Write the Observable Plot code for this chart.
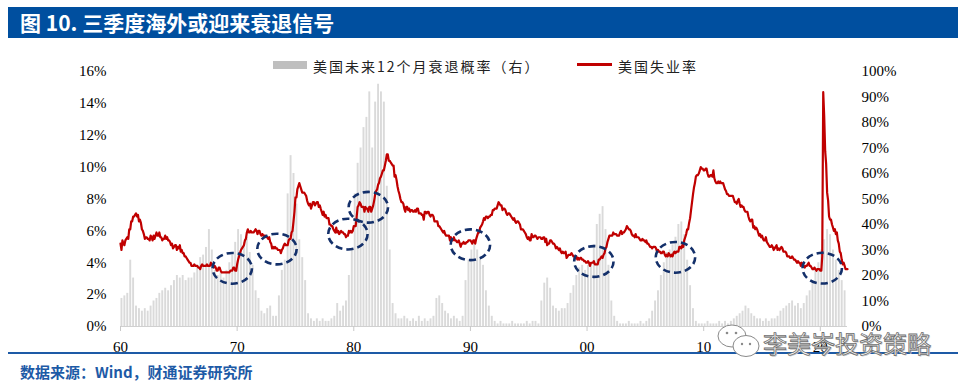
<!DOCTYPE html>
<html><head><meta charset="utf-8">
<script src="https://cdn.jsdelivr.net/npm/d3@7"></script>
<script src="https://cdn.jsdelivr.net/npm/@observablehq/plot@0.6"></script>
<style>
html,body{margin:0;padding:0;background:#fff;}
#wrap{position:relative;width:963px;height:385px;overflow:hidden;font-family:"Noto Sans CJK SC","Noto Sans",sans-serif;}
#chart{position:absolute;left:0;top:0;}
#title{position:absolute;left:8px;top:7px;width:950px;height:31px;background:#004f9f;color:#fff;font-weight:bold;font-size:21px;line-height:31px;padding-left:12px;box-sizing:border-box;white-space:nowrap;}
.legtext{position:absolute;top:56px;font-size:14px;letter-spacing:2px;color:#222;line-height:20px;white-space:nowrap;}
#sw1{position:absolute;left:273px;top:61px;width:34px;height:8px;background:#bfbfbf;}
#sw2{position:absolute;left:577px;top:63px;width:35px;height:3px;background:#c00000;}
#rule{position:absolute;left:8px;top:352px;width:950px;height:2px;background:#1d5aa6;}
#source{position:absolute;left:20px;top:361px;font-size:15px;font-weight:bold;color:#1d5aa6;line-height:22px;white-space:nowrap;}
#wm{position:absolute;left:763px;top:331px;font-size:24px;line-height:23px;color:#f6f6f6;-webkit-text-stroke:0.8px #6e6e6e;text-shadow:1px 1px 0 #c8c8c8;white-space:nowrap;}
#wmicon{position:absolute;left:716px;top:322px;}
</style></head>
<body><div id="wrap">
<div id="chart"></div>
<div id="title">图 10. 三季度海外或迎来衰退信号</div>
<div id="sw1"></div><div class="legtext" style="left:313px">美国未来12个月衰退概率（右）</div>
<div id="sw2"></div><div class="legtext" style="left:618px">美国失业率</div>
<div id="rule"></div>
<div id="source">数据来源：Wind，财通证券研究所</div>
<svg id="wmicon" width="46" height="40" viewBox="0 0 46 40">
  <ellipse cx="16" cy="14" rx="14" ry="11" fill="#fff" stroke="#8a8a8a" stroke-width="1"/>
  <circle cx="11" cy="11" r="1.3" fill="#8a8a8a"/><circle cx="20" cy="11" r="1.3" fill="#8a8a8a"/>
  <ellipse cx="30" cy="24" rx="13" ry="10.5" fill="#fff" stroke="#8a8a8a" stroke-width="1"/>
  <circle cx="26" cy="22" r="1.2" fill="#8a8a8a"/><circle cx="34" cy="22" r="1.2" fill="#8a8a8a"/>
</svg>
<div id="wm">李美岑投资策略</div>
</div>
<script>
// ---------- data ----------
const unemploymentStartYear = 1960;
// US unemployment rate (%), monthly, Jan 1960 – May 2022
const unemploymentRate = [
5.2,4.8,5.4,5.2,5.1,5.4,5.5,5.6,5.5,6.1,6.1,6.6,
6.6,6.9,6.9,7.0,7.1,6.9,7.0,6.6,6.7,6.5,6.1,6.0,
5.8,5.5,5.6,5.6,5.5,5.5,5.4,5.7,5.6,5.4,5.7,5.5,
5.7,5.9,5.7,5.7,5.9,5.6,5.6,5.4,5.5,5.5,5.7,5.5,
5.6,5.4,5.4,5.3,5.1,5.2,4.9,5.0,5.1,5.1,4.8,5.0,
4.9,5.1,4.7,4.8,4.6,4.6,4.4,4.4,4.3,4.2,4.1,4.0,
4.0,3.8,3.8,3.8,3.9,3.8,3.8,3.8,3.7,3.7,3.6,3.8,
3.9,3.8,3.8,3.8,3.8,3.9,3.8,3.8,3.8,4.0,3.9,3.8,
3.7,3.8,3.7,3.5,3.5,3.7,3.7,3.5,3.4,3.4,3.4,3.4,
3.4,3.4,3.4,3.4,3.4,3.5,3.5,3.5,3.7,3.7,3.5,3.5,
3.9,4.2,4.4,4.6,4.8,4.9,5.0,5.1,5.4,5.5,5.9,6.1,
5.9,5.9,6.0,5.9,5.9,5.9,6.0,6.1,6.0,5.8,6.0,6.0,
5.8,5.7,5.8,5.7,5.7,5.7,5.6,5.6,5.5,5.6,5.3,5.2,
4.9,5.0,4.9,5.0,4.9,4.9,4.8,4.8,4.8,4.6,4.8,4.9,
5.1,5.2,5.1,5.1,5.1,5.4,5.5,5.5,5.9,6.0,6.6,7.2,
8.1,8.1,8.6,8.8,9.0,8.8,8.6,8.4,8.4,8.4,8.3,8.2,
7.9,7.7,7.6,7.7,7.4,7.6,7.8,7.8,7.6,7.7,7.8,7.8,
7.5,7.6,7.4,7.2,7.0,7.2,6.9,7.0,6.8,6.8,6.8,6.4,
6.4,6.3,6.3,6.1,6.0,5.9,6.2,5.9,6.0,5.8,5.9,6.0,
5.9,5.9,5.8,5.8,5.6,5.7,5.7,6.0,5.9,6.0,5.9,6.0,
6.3,6.3,6.3,6.9,7.5,7.6,7.8,7.7,7.5,7.5,7.5,7.2,
7.5,7.4,7.4,7.2,7.5,7.5,7.2,7.4,7.6,7.9,8.3,8.5,
8.6,8.9,9.0,9.3,9.4,9.6,9.8,9.8,10.1,10.4,10.8,10.8,
10.4,10.4,10.3,10.2,10.1,10.1,9.4,9.5,9.2,8.8,8.5,8.3,
8.0,7.8,7.8,7.7,7.4,7.2,7.5,7.5,7.3,7.4,7.2,7.3,
7.3,7.2,7.2,7.3,7.2,7.4,7.4,7.1,7.1,7.1,7.0,7.0,
6.7,7.2,7.2,7.1,7.2,7.2,7.0,6.9,7.0,7.0,6.9,6.6,
6.6,6.6,6.6,6.3,6.3,6.2,6.1,6.0,5.9,6.0,5.8,5.7,
5.7,5.7,5.7,5.4,5.6,5.4,5.4,5.6,5.4,5.4,5.3,5.3,
5.4,5.2,5.0,5.2,5.2,5.3,5.2,5.2,5.3,5.3,5.4,5.4,
5.4,5.3,5.2,5.4,5.4,5.2,5.5,5.7,5.9,5.9,6.2,6.3,
6.4,6.6,6.8,6.7,6.9,6.9,6.8,6.9,6.9,7.0,7.0,7.3,
7.3,7.4,7.4,7.4,7.6,7.8,7.7,7.6,7.6,7.3,7.4,7.4,
7.3,7.1,7.0,7.1,7.1,7.0,6.9,6.8,6.7,6.8,6.6,6.5,
6.6,6.6,6.5,6.4,6.1,6.1,6.1,6.0,5.9,5.8,5.6,5.5,
5.6,5.4,5.4,5.8,5.6,5.6,5.7,5.7,5.6,5.5,5.6,5.6,
5.6,5.5,5.5,5.6,5.6,5.3,5.5,5.1,5.2,5.2,5.4,5.4,
5.3,5.2,5.2,5.1,4.9,5.0,4.9,4.8,4.9,4.7,4.6,4.7,
4.6,4.6,4.7,4.3,4.4,4.5,4.5,4.5,4.6,4.5,4.4,4.4,
4.3,4.4,4.2,4.3,4.2,4.3,4.3,4.2,4.2,4.1,4.1,4.0,
4.0,4.1,4.0,3.8,4.0,4.0,4.0,4.1,3.9,3.9,3.9,3.9,
4.2,4.2,4.3,4.4,4.3,4.5,4.6,4.9,5.0,5.3,5.5,5.7,
5.7,5.7,5.7,5.9,5.8,5.8,5.8,5.7,5.7,5.7,5.9,6.0,
5.8,5.9,5.9,6.0,6.1,6.3,6.2,6.1,6.1,6.0,5.8,5.7,
5.7,5.6,5.8,5.6,5.6,5.6,5.5,5.4,5.4,5.5,5.4,5.4,
5.3,5.4,5.2,5.2,5.1,5.0,5.0,4.9,5.0,5.0,5.0,4.9,
4.7,4.8,4.7,4.7,4.6,4.6,4.7,4.7,4.5,4.4,4.5,4.4,
4.6,4.5,4.4,4.5,4.4,4.6,4.7,4.6,4.7,4.7,4.7,5.0,
5.0,4.9,5.1,5.0,5.4,5.6,5.8,6.1,6.1,6.5,6.8,7.3,
7.8,8.3,8.7,9.0,9.4,9.5,9.5,9.6,9.8,10.0,9.9,9.9,
9.8,9.8,9.9,9.9,9.6,9.4,9.4,9.5,9.5,9.4,9.8,9.3,
9.1,9.0,9.0,9.1,9.0,9.1,9.0,9.0,9.0,8.8,8.6,8.5,
8.3,8.3,8.2,8.2,8.2,8.2,8.2,8.0,7.8,7.8,7.7,7.9,
8.0,7.7,7.5,7.6,7.5,7.5,7.3,7.2,7.2,7.2,6.9,6.7,
6.6,6.7,6.7,6.2,6.3,6.1,6.2,6.1,5.9,5.7,5.8,5.6,
5.7,5.5,5.4,5.4,5.6,5.3,5.2,5.1,5.0,5.0,5.1,5.0,
4.8,4.9,5.0,5.1,4.8,4.9,4.8,4.9,5.0,4.9,4.7,4.7,
4.7,4.6,4.4,4.4,4.4,4.3,4.3,4.4,4.3,4.2,4.2,4.1,
4.0,4.1,4.0,4.0,3.8,4.0,3.8,3.8,3.7,3.8,3.8,3.9,
4.0,3.8,3.8,3.7,3.6,3.6,3.7,3.6,3.5,3.6,3.6,3.6,
3.5,3.5,4.4,14.7,13.2,11.0,10.2,8.4,7.9,6.9,6.7,6.7,
6.4,6.2,6.0,6.1,5.8,5.9,5.4,5.2,4.7,4.6,4.2,3.9,
4.0,3.8,3.6,3.6,3.6
];

const probStartYear = 1960;
// Probability of US recession in next 12 months (%), quarterly, 1960Q1 – 2022Q2
const recessionProb = [
11,12,13,26,  19,8,7,6,  7,6,8,10,  11,13,14,15,  14,16,18,20,
19,20,18,19,  19,21,24,27,  28,31,38,30,  22,20,21,19,  22,25,28,33,
38,36,33,35,  29,24,14,11,  6,5,7,8,  4,4,12,22,  26,52,67,60,
48,34,27,18,  5,3,2,3,  2,3,2,2,  3,4,9,6,  8,10,20,30,
52,64,70,78,  82,92,70,88,  95,92,88,55,  30,9,5,3,  3,4,3,2,
3,2,4,2,  3,2,3,4,  11,12,9,6,  5,3,4,3,  2,4,18,26,
30,34,30,27,  24,14,8,4,  2,1,2,1,  1,1,2,1,  1,1,1,2,
1,2,2,1,  10,17,19,15,  8,7,6,7,  7,9,13,16,  20,23,24,22,
24,25,32,40,  44,47,38,24,  10,4,2,1,  1,1,2,1,  1,1,2,1,
2,3,6,10,  14,20,25,29,  30,32,35,40,  41,36,26,16,  7,2,1,1,
1,2,1,1,  1,2,1,2,  1,2,3,4,  5,6,8,7,  5,4,3,3,
2,3,2,3,  3,4,6,7,  8,9,10,8,  9,7,9,12,  14,18,22,25,
30,34,38,36,  30,26,22,18,  14,11
];

// circled turning points: month and unemployment level
const circledMonths = ["1969-08","1973-06","1979-07","1981-04","1990-01","2000-08","2007-08","2020-03"];
const circledRates  = [3.65, 4.86, 5.8, 7.48, 5.13, 4.08, 4.34, 3.66];

const decadeTicks = [1960,1970,1980,1990,2000,2010,2020];
const leftTicks = [0,2,4,6,8,10,12,14,16];
const rightTicks = [0,10,20,30,40,50,60,70,80,90,100];

// ---------- build ----------
const xStart = new Date(1960,0,1), xEnd = new Date(2022,4,1);
const unemp = unemploymentRate.map((v,i)=>({date:new Date(unemploymentStartYear+Math.floor(i/12), i%12, 1), rate:v}));
const probs = recessionProb.map((v,i)=>{
  const y = probStartYear+Math.floor(i/4), q = i%4;
  const d1 = new Date(y, q*3, 1);
  let d2 = new Date(y, q*3+3, 1);
  if (d2 > xEnd) d2 = xEnd;
  return {d1, d2, p:v};
});
const circled = circledMonths.map((m,i)=>{const [y,mo]=m.split("-").map(Number); return {date:new Date(y,mo-1,1), rate:circledRates[i]};});
const scaleRight = 16/100;

const ellipseSymbol = {
  draw(ctx, size){
    const rx = Math.sqrt(size/Math.PI), ry = rx*0.78, k = 0.5523;
    ctx.moveTo(rx,0);
    ctx.bezierCurveTo(rx,k*ry,k*rx,ry,0,ry);
    ctx.bezierCurveTo(-k*rx,ry,-rx,k*ry,-rx,0);
    ctx.bezierCurveTo(-rx,-k*ry,-k*rx,-ry,0,-ry);
    ctx.bezierCurveTo(k*rx,-ry,rx,-k*ry,rx,0);
    ctx.closePath();
  }
};

const chart = Plot.plot({
  width: 963, height: 385,
  marginLeft: 120, marginRight: 116, marginTop: 71, marginBottom: 59,
  style: {fontFamily: "'Liberation Serif','DejaVu Serif',serif", fontSize: "15px", background: "transparent", color: "#000", overflow: "visible"},
  x: {type: "time", domain: [xStart, xEnd]},
  y: {domain: [0,16]},
  marks: [
    Plot.rectY(probs, {x1: "d1", x2: "d2", y: d => d.p*scaleRight, fill: "#dadada", insetLeft: 0.5, insetRight: 0.5}),
    Plot.ruleY([0], {stroke: "#d0d0d0", strokeWidth: 1.2}),
    Plot.lineY(unemp, {x: "date", y: "rate", stroke: "#c00000", strokeWidth: 2.2, strokeLinejoin: "round"}),
    Plot.dot(circled, {x: "date", y: "rate", r: 19.7, symbol: ellipseSymbol, stroke: "#14306a", strokeWidth: 2.6, strokeDasharray: "7,4", fill: "none"}),
    Plot.axisY({anchor: "left", ticks: leftTicks, tickFormat: d => d + "%", tickSize: 0, tickPadding: 14, label: null}),
    Plot.axisY({anchor: "right", ticks: rightTicks.map(v => v*scaleRight), tickFormat: d => Math.round(d/scaleRight) + "%", tickSize: 0, tickPadding: 14, label: null}),
    Plot.axisX({ticks: decadeTicks.map(y => new Date(y,0,1)), tickFormat: d => String(d.getFullYear()%100).padStart(2,"0"), tickSize: 5, tickPadding: 10, stroke: "#c8c8c8", label: null})
  ]
});
document.getElementById("chart").appendChild(chart);
</script>
</body></html>
